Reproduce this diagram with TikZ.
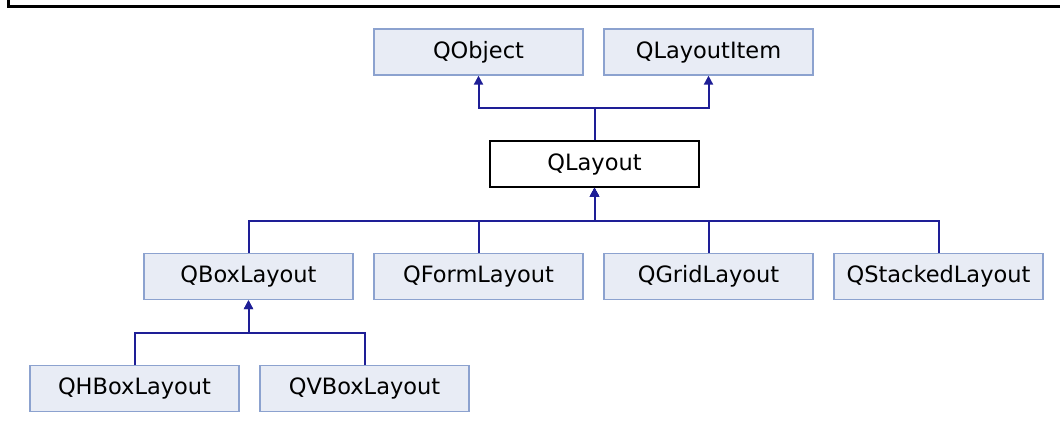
\documentclass[tikz,border=0pt]{standalone}
\usepackage{fontspec}
\setmainfont{DejaVu Sans}
\usetikzlibrary{arrows.meta}
\definecolor{boxfill}{HTML}{E8ECF5}
\definecolor{boxline}{HTML}{8CA2CF}
\definecolor{edgeblue}{HTML}{1E1E96}
\begin{document}
\begin{tikzpicture}[x=1pt,y=1pt,
  cls/.style={draw=boxline,fill=boxfill,line width=1.3pt,minimum width=209pt,minimum height=46pt,inner sep=0pt,
    font=\fontsize{22.5}{26}\selectfont},
  cur/.style={cls,draw=black,fill=white},
  edge/.style={draw=edgeblue,line width=2pt,-{Triangle[length=9pt,width=9pt]}}]
\useasboundingbox (0,0) rectangle (1060,432);
\draw[line width=3pt] (8.7,432) -- (8.7,425) -- (1060,425);
\node[cls] (qobject) at (478.5,380) {QObject};
\node[cls] (qlayoutitem) at (708.5,380) {QLayoutItem};
\node[cur] (qlayout) at (594.5,268) {QLayout};
\node[cls] (qboxlayout) at (248.5,155.5) {QBoxLayout};
\node[cls] (qformlayout) at (478.5,155.5) {QFormLayout};
\node[cls] (qgridlayout) at (708.5,155.5) {QGridLayout};
\node[cls] (qstackedlayout) at (938.5,155.5) {QStackedLayout};
\node[cls] (qhboxlayout) at (134.5,43.5) {QHBoxLayout};
\node[cls] (qvboxlayout) at (364.5,43.5) {QVBoxLayout};
\draw[edge] (qlayout.north) -- ++(0,32) -| (qobject.south);
\draw[edge] (qlayout.north) -- ++(0,32) -| (qlayoutitem.south);
\draw[edge] (qboxlayout.north) -- ++(0,32) -| (qlayout.south);
\draw[edge] (qformlayout.north) -- ++(0,32) -| (qlayout.south);
\draw[edge] (qgridlayout.north) -- ++(0,32) -| (qlayout.south);
\draw[edge] (qstackedlayout.north) -- ++(0,32) -| (qlayout.south);
\draw[edge] (qhboxlayout.north) -- ++(0,32) -| (qboxlayout.south);
\draw[edge] (qvboxlayout.north) -- ++(0,32) -| (qboxlayout.south);
\end{tikzpicture}
\end{document}
